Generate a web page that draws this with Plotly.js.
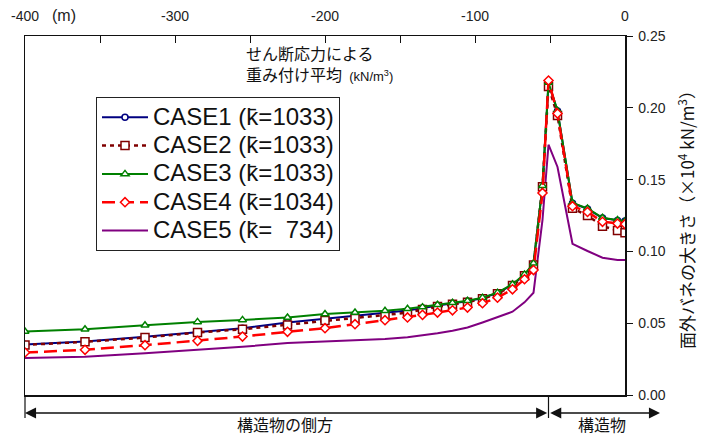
<!DOCTYPE html>
<html>
<head>
<meta charset="utf-8">
<script src="https://cdn.plot.ly/plotly-3.0.1.min.js"></script>
<style>html,body{margin:0;padding:0;background:#fff;}#chart{width:704px;height:437px;}</style>
</head>
<body>
<div id="chart"></div>
<script>
// distance from structure (m)
const xPos = [-400,-360,-320,-285,-255,-225,-200,-180,-160,-145,-135,-125,-115,-105,-95,-85,-75,-67,-61,-55,-51,-45,-35,-25,-15,-5,0];

const case1 = [0.0352,0.0373,0.0405,0.0440,0.0465,0.0505,0.0530,0.0550,0.0568,0.0588,0.0605,0.0624,0.0638,0.0652,0.0675,0.0710,0.0768,0.0836,0.0912,0.1455,0.2172,0.1978,0.1336,0.1296,0.1232,0.1216,0.1212];
const case2 = [0.0349,0.0370,0.0400,0.0435,0.0458,0.0488,0.0518,0.0533,0.0553,0.0573,0.0595,0.0616,0.0632,0.0646,0.0670,0.0705,0.0762,0.0830,0.0905,0.1450,0.2148,0.1947,0.1300,0.1250,0.1176,0.1146,0.1130];
const case3 = [0.0442,0.0458,0.0486,0.0509,0.0523,0.0540,0.0564,0.0574,0.0586,0.0600,0.0612,0.0628,0.0642,0.0656,0.0678,0.0713,0.0771,0.0840,0.0917,0.1458,0.2176,0.1980,0.1338,0.1299,0.1234,0.1218,0.1210];
const case4 = [0.0296,0.0315,0.0347,0.0377,0.0407,0.0440,0.0465,0.0493,0.0521,0.0540,0.0558,0.0574,0.0590,0.0609,0.0639,0.0678,0.0736,0.0806,0.0870,0.1407,0.2190,0.1960,0.1315,0.1275,0.1206,0.1194,0.1190];
const case5 = [0.0257,0.0267,0.0290,0.0313,0.0336,0.0362,0.0372,0.0380,0.0390,0.0402,0.0415,0.0430,0.0448,0.0470,0.0505,0.0540,0.0580,0.0645,0.0712,0.1220,0.1743,0.1588,0.1053,0.1003,0.0956,0.0940,0.0940];

const names = ["CASE1 (k\u0304=1033)","CASE2 (k\u0304=1033)","CASE3 (k\u0304=1033)","CASE4 (k\u0304=1034)","CASE5 (k\u0304=\u00a0\u00a0734)"];
const yTicks = [0,0.05,0.10,0.15,0.20,0.25];
const xTicks = [-400,-300,-200,-100,0];

const FONT = "'Liberation Sans', Arial, 'Noto Sans CJK JP', sans-serif";
const JFONT = "'Noto Sans CJK JP', 'Liberation Sans', sans-serif";

function mk(y, name, color, dash, width, symbol, size, rank){
  const t = {x:xPos, y:y, name:'<span style="font-size:24px">' + name + '</span>', type:'scatter',
    mode: symbol ? 'lines+markers':'lines',
    line:{color:color, dash:dash, width:width}, legendrank: rank};
  if (symbol) t.marker = {symbol:symbol, size:size, color:'#ffffff', line:{color:color, width:1.5}};
  return t;
}
const traces = [
  mk(case5, names[4], '#800080', 'solid', 2, null, 0, 5),
  mk(case1, names[0], '#000080', 'solid', 2, 'circle', 6, 1),
  mk(case2, names[1], '#800000', '4px,4px', 2.5, 'square', 8, 2),
  mk(case3, names[2], '#008000', 'solid', 2, 'triangle-up', 7, 3),
  mk(case4, names[3], '#ff0000', '13px,6px', 2.5, 'diamond', 7, 4)
];

const L = 25, R = 79, T = 36, B = 42, W = 704, H = 437;
const pw = W - L - R, ph = H - T - B;
const px = v => (v - L) / pw;      // pixel x -> paper
const py = v => (H - B - v) / ph;  // pixel y -> paper
const boundary = -51;

const layout = {
  width: W, height: H,
  margin: {l:L, r:R, t:T, b:B, pad:0},
  paper_bgcolor:'#fff', plot_bgcolor:'#fff',
  font: {family: FONT, size: 14, color:'#222'},
  showlegend: true,
  legend: {x: px(96), y: py(97), xanchor:'left', yanchor:'top',
    bgcolor:'#fff', bordercolor:'#222', borderwidth:1, itemwidth:46,
    font:{family: FONT, size:19.5, color:'#111'}, traceorder:'normal'},
  xaxis: {side:'top', range:[-400,0], tickvals:xTicks, ticktext:xTicks.map(String),
    ticks:'inside', ticklen:7, tickcolor:'#111', ticklabelstandoff:8,
    minor:{tickvals:[-350,-250,-150,-50], ticks:'inside', ticklen:7, tickcolor:'#111'},
    showline:true, linecolor:'#111', linewidth:1.5, mirror:true,
    showgrid:false, zeroline:false, fixedrange:true,
    tickfont:{family: FONT, size:14, color:'#222'}},
  yaxis: {side:'right', range:[0,0.25], tickvals:yTicks, ticktext:yTicks.map(v=>v.toFixed(2)),
    ticks:'outside', ticklen:6, tickcolor:'#111', ticklabelstandoff:3,
    showline:true, linecolor:'#111', linewidth:1.5, mirror:true,
    showgrid:false, zeroline:false, fixedrange:true,
    tickfont:{family: FONT, size:14, color:'#222'},
    title:{text:'面外バネの大きさ（×10<sup>4</sup> kN/m<sup>3</sup>）', standoff:17,
      font:{family: JFONT, size:17, color:'#111'}}},
  yaxis2: {overlaying:'y', side:'right', range:[0,0.25], tickvals:yTicks,
    ticks:'inside', ticklen:5, tickcolor:'#111', showticklabels:false,
    showline:false, showgrid:false, zeroline:false, fixedrange:true},
  shapes: [
    {type:'line', xref:'paper', yref:'paper', x0:px(25), x1:px(25), y0:0, y1:py(418), line:{color:'#111', width:1.2}},
    {type:'line', xref:'x', yref:'paper', x0:boundary, x1:boundary, y0:0, y1:py(418), line:{color:'#111', width:1.2}}
  ],
  annotations: [
    {xref:'paper', yref:'paper', x:px(244), y:py(53), xanchor:'left', yanchor:'middle', align:'left', showarrow:false,
      text:'せん断応力による', font:{family: JFONT, size:16, color:'#111'}},
    {xref:'paper', yref:'paper', x:px(244), y:py(74), xanchor:'left', yanchor:'middle', align:'left', showarrow:false,
      text:'重み付け平均\u00a0\u00a0<span style="font-size:13px;font-family:Liberation Sans">(kN/m<sup>3</sup>)</span>',
      font:{family: JFONT, size:16, color:'#111'}},
    {xref:'paper', yref:'paper', x:px(50), y:py(15), xanchor:'left', yanchor:'middle', showarrow:false,
      text:'(m)', font:{family: FONT, size:16, color:'#222'}},
    {xref:'paper', yref:'paper', x:px(285), y:py(424), xanchor:'center', yanchor:'middle', showarrow:false,
      text:'構造物の側方', font:{family: JFONT, size:16, color:'#111'}},
    {xref:'paper', yref:'paper', x:px(602), y:py(424), xanchor:'center', yanchor:'middle', showarrow:false,
      text:'構造物', font:{family: JFONT, size:16, color:'#111'}},
    {xref:'paper', yref:'paper', x:px(25), y:py(413), axref:'pixel', ayref:'pixel', ax:523.7, ay:0,
      text:'', showarrow:true, arrowhead:2, arrowside:'end+start', arrowsize:1.7, arrowwidth:1.3, arrowcolor:'#111', standoff:0, startstandoff:0},
    {xref:'paper', yref:'paper', x:px(660), y:py(413), axref:'pixel', ayref:'pixel', ax:-111.3, ay:0,
      text:'', showarrow:true, arrowhead:2, arrowside:'end+start', arrowsize:1.7, arrowwidth:1.3, arrowcolor:'#111', standoff:0, startstandoff:0}
  ]
};

Plotly.newPlot('chart', traces, layout, {displayModeBar:false, staticPlot:true});
</script>
</body>
</html>
